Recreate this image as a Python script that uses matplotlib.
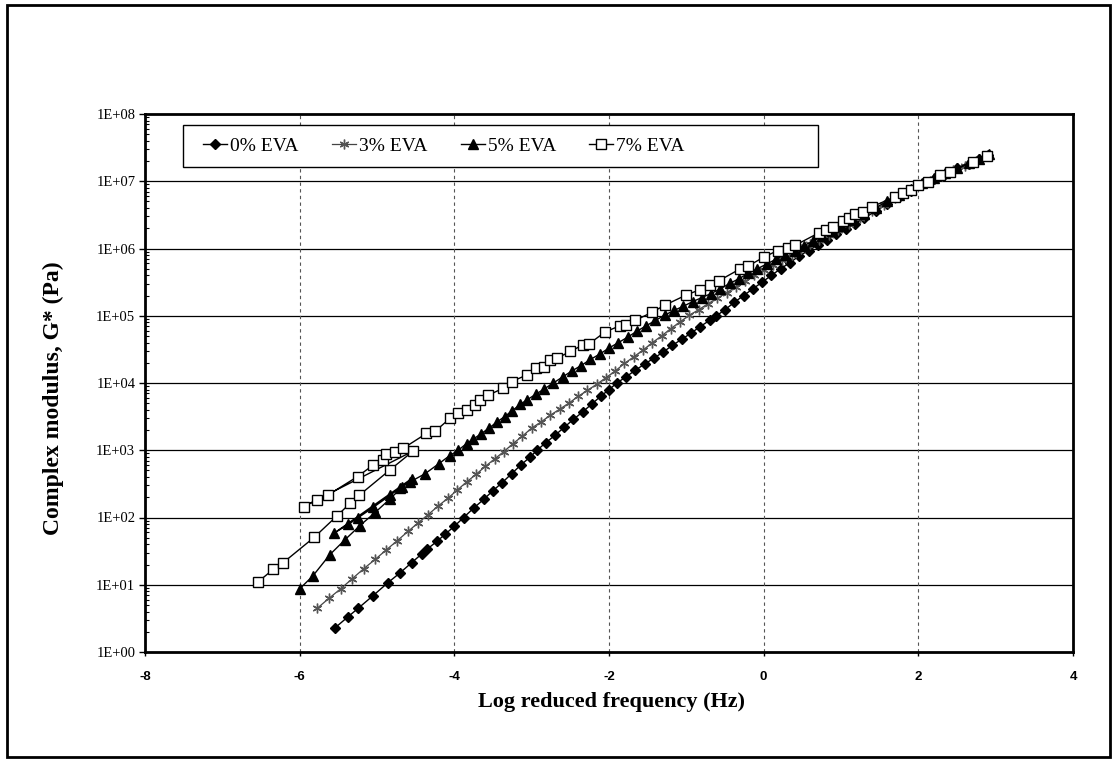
import math
import matplotlib.pyplot as plt
from matplotlib.patches import Rectangle
from matplotlib.ticker import LogLocator, FixedLocator, FuncFormatter

plt.rcParams['axes.unicode_minus'] = False

# ==== DATOS: log frecuencia reducida (Hz) y G* (Pa) ====

# 0% EVA
freq_0 = [-5.54, -5.38, -5.24, -5.05, -4.86, -4.70, -4.55, -4.42, -4.35, -4.22, -4.12, -4.00,
          -3.88, -3.75, -3.62, -3.50, -3.38, -3.26, -3.14, -3.02, -2.93, -2.82, -2.70, -2.58,
          -2.46, -2.34, -2.22, -2.10, -2.00, -1.90, -1.78, -1.66, -1.54, -1.42, -1.30, -1.18,
          -1.06, -0.94, -0.82, -0.70, -0.61, -0.50, -0.38, -0.26, -0.14, -0.02, 0.10, 0.22,
          0.34, 0.46, 0.58, 0.70, 0.82, 0.94, 1.06, 1.18, 1.30, 1.45, 1.60, 1.75, 1.90,
          2.05, 2.20, 2.35, 2.50, 2.65, 2.78, 2.90]
g_0 = [2.3, 3.3, 4.5, 6.9, 10.7, 15.1, 21.4, 28.8, 33.9, 44.7, 56.2, 74.1,
       100, 138, 186, 251, 331, 447, 603, 794, 1000, 1290, 1660, 2190,
       2880, 3720, 4900, 6460, 7940, 10000, 12300, 15500, 19100, 23400, 28800, 36300,
       44700, 55000, 69200, 85100, 100000, 123000, 158000, 200000, 251000, 316000, 398000, 501000,
       617000, 776000, 933000, 1.12e6, 1.35e6, 1.62e6, 1.95e6, 2.34e6, 2.82e6, 3.63e6, 4.57e6, 5.75e6, 7.24e6,
       9.12e6, 1.07e7, 1.29e7, 1.55e7, 1.82e7, 2.14e7, 2.45e7]

# 3% EVA
freq_3 = [-5.77, -5.62, -5.47, -5.32, -5.17, -5.02, -4.88, -4.74, -4.60, -4.47, -4.34, -4.21,
          -4.08, -3.96, -3.84, -3.72, -3.60, -3.48, -3.36, -3.24, -3.12, -3.00, -2.88, -2.76,
          -2.64, -2.52, -2.40, -2.28, -2.16, -2.04, -1.92, -1.80, -1.68, -1.56, -1.44, -1.32,
          -1.20, -1.08, -0.96, -0.84, -0.72, -0.60, -0.48, -0.36, -0.24, -0.12, 0.00, 0.12,
          0.24, 0.36, 0.48, 0.60, 0.72, 0.84, 0.96, 1.10, 1.25, 1.40, 1.55, 1.70, 1.85,
          2.00, 2.15, 2.30, 2.45, 2.60, 2.75, 2.88]
g_3 = [4.5, 6.3, 8.7, 12.3, 17.4, 24, 33, 45, 62, 83, 110, 148,
       195, 257, 339, 437, 575, 741, 955, 1260, 1620, 2140, 2630, 3310,
       4070, 5010, 6310, 7760, 9550, 12000, 15100, 19500, 24500, 30900, 39800, 50100,
       64600, 81300, 102000, 123000, 151000, 182000, 219000, 269000, 324000, 398000, 479000, 575000,
       676000, 813000, 977000, 1.15e6, 1.35e6, 1.58e6, 1.91e6, 2.29e6, 2.88e6, 3.63e6, 4.47e6, 5.62e6, 6.92e6,
       8.71e6, 1.02e7, 1.20e7, 1.45e7, 1.70e7, 2.00e7, 2.34e7]

# 5% EVA (primer tramo a alta temperatura, luego el resto)
freq_5 = [-6.00, -5.83, -5.61, -5.42, -5.22, -5.02, -4.83, -4.68, -4.55,
          -5.55, -5.37, -5.24, -5.05, -4.83, -4.70, -4.57, -4.38, -4.20, -4.06,
          -3.95, -3.84, -3.76, -3.66, -3.55, -3.45, -3.35, -3.25, -3.15, -3.06, -2.95, -2.84,
          -2.72, -2.60, -2.48, -2.36, -2.24, -2.12, -2.00, -1.88, -1.76, -1.64, -1.52, -1.40,
          -1.28, -1.16, -1.04, -0.92, -0.80, -0.68, -0.56, -0.44, -0.32, -0.20, -0.08, 0.04,
          0.16, 0.28, 0.40, 0.52, 0.64, 0.76, 0.88, 1.00, 1.15, 1.30, 1.45, 1.60, 1.75,
          1.90, 2.05, 2.20, 2.35, 2.50, 2.65, 2.78, 2.92]
g_5 = [8.7, 13.5, 28, 46, 76, 120, 190, 280, 380,
       59, 79, 100, 141, 214, 275, 339, 447, 631, 832,
       1000, 1260, 1450, 1740, 2140, 2630, 3160, 3890, 4790, 5620, 6760, 8130,
       10000, 12300, 15100, 18200, 22400, 26900, 33100, 39800, 47900, 58900, 70800, 85100,
       102000, 120000, 138000, 162000, 186000, 214000, 251000, 302000, 355000, 427000, 501000, 589000,
       692000, 813000, 933000, 1.10e6, 1.29e6, 1.55e6, 1.82e6, 2.14e6, 2.63e6, 3.31e6, 4.07e6, 5.01e6, 6.31e6,
       7.76e6, 9.33e6, 1.12e7, 1.32e7, 1.58e7, 1.86e7, 2.14e7, 2.51e7]

# 7% EVA (primer tramo a alta temperatura, luego el resto)
freq_7 = [-6.54, -6.34, -6.22, -5.81, -5.52, -5.35, -5.23, -4.83, -4.53,
          -5.95, -5.78, -5.64, -5.25, -5.05, -4.92, -4.88, -4.77, -4.66,
          -4.36, -4.25, -4.05, -3.95, -3.84, -3.73, -3.67, -3.56, -3.37, -3.26, -3.06, -2.95,
          -2.84, -2.76, -2.67, -2.50, -2.33, -2.26, -2.05, -1.86, -1.78, -1.66, -1.45, -1.27,
          -1.00, -0.82, -0.69, -0.58, -0.30, -0.20, 0.00, 0.18, 0.31, 0.41, 0.71, 0.81,
          0.90, 1.02, 1.10, 1.18, 1.29, 1.40, 1.70, 1.80, 1.90, 2.00, 2.12, 2.28,
          2.41, 2.71, 2.89]
g_7 = [11, 17, 21, 51, 105, 162, 214, 513, 977,
       145, 182, 214, 407, 603, 708, 871, 955, 1070,
       1780, 1910, 3020, 3550, 3980, 4680, 5620, 6610, 8320, 10500, 13200, 16600,
       17400, 21900, 23400, 29500, 37200, 38000, 57500, 70800, 74100, 85100, 112000, 145000,
       204000, 245000, 288000, 331000, 501000, 550000, 741000, 933000, 1.02e6, 1.12e6, 1.70e6, 1.86e6,
       2.09e6, 2.57e6, 2.82e6, 3.24e6, 3.47e6, 4.17e6, 5.89e6, 6.76e6, 7.41e6, 8.71e6, 9.77e6, 1.23e7,
       1.38e7, 1.95e7, 2.40e7]

labels = ['0% EVA', '3% EVA', '5% EVA', '7% EVA']

SERIF = 'Liberation Serif'
SANS = 'Liberation Sans'

fig = plt.figure(figsize=(11.13, 7.59), dpi=100)
ax = fig.add_axes([145 / 1113, 1 - 652 / 759, 928 / 1113, 538 / 759])

# marco exterior de la figura
fig.add_artist(Rectangle((7 / 1113, 2 / 759), 1103 / 1113, 752 / 759,
                         transform=fig.transFigure, fill=False, edgecolor='black', linewidth=2.0))

# rejilla
for d in range(1, 8):
    ax.axhline(10.0 ** d, color='black', linewidth=0.9, zorder=1)
for xv in [-6, -4, -2, 0, 2]:
    ax.axvline(xv, color='#555555', linewidth=0.8, linestyle=(0, (3, 3)), zorder=1)

ax.plot(freq_0, g_0, '-', color='black', linewidth=1.0, marker='D', markersize=4.8,
        markerfacecolor='black', markeredgecolor='black', label=labels[0], zorder=3)
ax.plot(freq_3, g_3, '-', color='#444444', linewidth=0.9, marker=(6, 2, 0), markersize=7,
        markeredgecolor='#555555', markeredgewidth=1.0, label=labels[1], zorder=3)
ax.plot(freq_5, g_5, '-', color='black', linewidth=1.0, marker='^', markersize=6.5,
        markerfacecolor='black', markeredgecolor='black', label=labels[2], zorder=4)
ax.plot(freq_7, g_7, '-', color='black', linewidth=1.0, marker='s', markersize=6.5,
        markerfacecolor='white', markeredgecolor='black', markeredgewidth=1.0,
        label=labels[3], zorder=5)

ax.set_yscale('log')
ax.set_ylim(1, 1e8)
ax.set_xlim(-8, 4)

ax.xaxis.set_major_locator(FixedLocator([-8, -6, -4, -2, 0, 2, 4]))
ax.yaxis.set_major_locator(LogLocator(base=10, numticks=20))
ax.yaxis.set_minor_locator(LogLocator(base=10, subs=range(2, 10), numticks=20))
ax.yaxis.set_major_formatter(FuncFormatter(lambda v, p: '1E+%02d' % round(math.log10(v))))

ax.tick_params(axis='y', which='major', direction='out', length=4, width=1, pad=3)
ax.tick_params(axis='y', which='minor', direction='in', length=3, width=0.8)
ax.tick_params(axis='x', which='major', direction='out', length=3, width=1, pad=11)

for lab in ax.get_yticklabels():
    lab.set_fontfamily(SERIF)
    lab.set_fontsize(10.5)
for lab in ax.get_xticklabels():
    lab.set_fontfamily(SANS)
    lab.set_fontweight('bold')
    lab.set_fontsize(9.5)

for s in ax.spines.values():
    s.set_linewidth(2.0)

ax.set_xlabel('Log reduced frequency (Hz)', fontfamily=SERIF, fontweight='bold', fontsize=16)
ax.set_ylabel('Complex modulus, G* (Pa)', fontfamily=SERIF, fontweight='bold', fontsize=17)
ax.xaxis.set_label_coords(0.503, -0.075)
ax.yaxis.set_label_coords(-0.087, 0.472)

# caja de la leyenda (más ancha que su contenido)
ax.add_patch(Rectangle((0.041, 0.9015), 0.684, 0.078, transform=ax.transAxes,
                       facecolor='white', edgecolor='black', linewidth=1.0, zorder=6))
leg = ax.legend(loc='center left', bbox_to_anchor=(0.052, 0.9405), ncol=4, frameon=False,
                borderpad=0, handlelength=1.25, handletextpad=0.15, columnspacing=1.7,
                prop={'family': SERIF, 'size': 14})
leg.set_zorder(7)

fig.savefig('out.png', dpi=100)
